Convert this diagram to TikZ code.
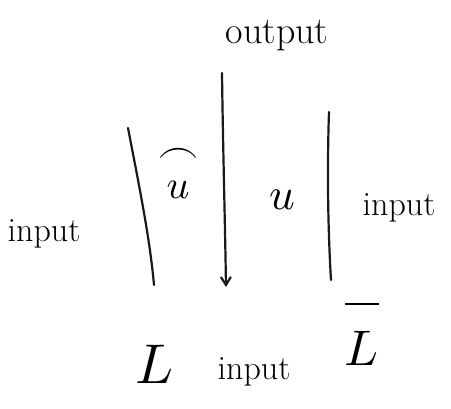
\documentclass[tikz,border=0pt]{standalone}
\usepackage{amsmath}
\usepackage{fontspec}
\usetikzlibrary{arrows.meta}
\begin{document}
\begin{tikzpicture}[x=1pt,y=-1pt,
  stroke/.style={line width=2.2pt,line cap=round,black!90},
  lbl/.style={inner sep=0pt,font=\fontsize{34}{36}\selectfont},
  sym/.style={inner sep=0pt},
  big/.style={inner sep=0pt,anchor=base}]
\useasboundingbox (0,0) rectangle (451,409);
\node[lbl,font=\fontsize{38}{40}\selectfont] (out) at (277,36) {output};
\node[lbl] (inl) at (44,234) {input};
\node[lbl] (inr) at (399,208) {input};
\node[lbl] (inb) at (254,372) {input};
\node[sym] (uh) at (178,172) {\scalebox{4}{$\overset{\raisebox{2.5pt}{$\frown$}}{u}$}};
\node[sym] (u) at (282,200) {\scalebox{4.5}{$u$}};
\node[big] (L) at (155,384) {\scalebox{5.6}{$L$}};
\node[big] (Lb) at (362,366) {\scalebox{5}{$\overline{\rule{0pt}{11pt}L}$}};
\coordinate (a1) at (128,128);
\coordinate (a2) at (154,285);
\coordinate (b1) at (222,73);
\coordinate (b2) at (226,287);
\coordinate (c1) at (329,112);
\coordinate (c2) at (331,280);
\draw[stroke] (a1) .. controls (140,190) and (150,240) .. (a2);
\draw[stroke,-{Straight Barb[length=8pt,width=10pt]}] (b1) .. controls (223,150) and (225,220) .. (b2);
\draw[stroke] (c1) .. controls (327,170) and (328,230) .. (c2);
\end{tikzpicture}
\end{document}
